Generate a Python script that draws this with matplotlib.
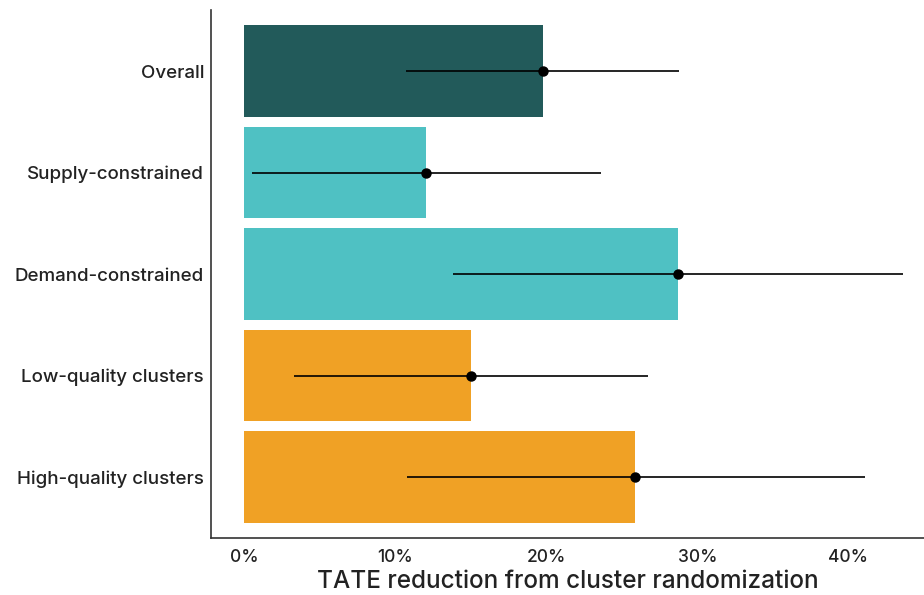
import matplotlib.pyplot as plt
import numpy as np

plt.rcParams['font.family'] = ['Inter', 'DejaVu Sans']

categories = ['Overall', 'Supply-constrained', 'Demand-constrained',
              'Low-quality clusters', 'High-quality clusters']
estimates = [19.8, 12.05, 28.7, 15.0, 25.9]
ci_low = [10.7, 0.5, 13.8, 3.3, 10.8]
ci_high = [28.8, 23.6, 43.6, 26.7, 41.1]
colors = ['#225a5a', '#4fc1c3', '#4fc1c3', '#f0a125', '#f0a125']


def main():
    fig = plt.figure(figsize=(9.24, 5.95), dpi=100)
    ax = fig.add_axes([0.2284, 0.0958, 0.7716, 0.887])

    y = np.arange(len(categories))
    est = np.array(estimates)
    lo = np.array(ci_low)
    hi = np.array(ci_high)

    ax.barh(y, est, height=0.9, color=colors, zorder=1)
    ax.errorbar(est, y, xerr=[est - lo, hi - est], fmt='o', color='black',
                markersize=6.5, elinewidth=1.2, capsize=0, zorder=3)

    ax.set_yticks(y, labels=categories)
    ax.set_xticks([0, 10, 20, 30, 40], labels=['0%', '10%', '20%', '30%', '40%'])
    ax.set_ylim(4.6, -0.6)
    ax.set_xlim(-2.2, 45.0)
    ax.tick_params(axis='both', length=0, colors='#222222')
    ax.tick_params(axis='y', labelsize=13.5, pad=5)
    ax.tick_params(axis='x', labelsize=12.5, pad=8)
    for lab in ax.get_yticklabels() + ax.get_xticklabels():
        lab.set_fontweight(500)
    ax.set_xlabel('TATE reduction from cluster randomization', fontsize=17.5,
                  color='#222222', labelpad=3, fontweight=500)

    for s in ['top', 'right']:
        ax.spines[s].set_visible(False)
    for s in ['left', 'bottom']:
        ax.spines[s].set_color('#333333')
        ax.spines[s].set_linewidth(1.2)

    plt.savefig('out.png')
    return


if __name__ == '__main__':
    main()
